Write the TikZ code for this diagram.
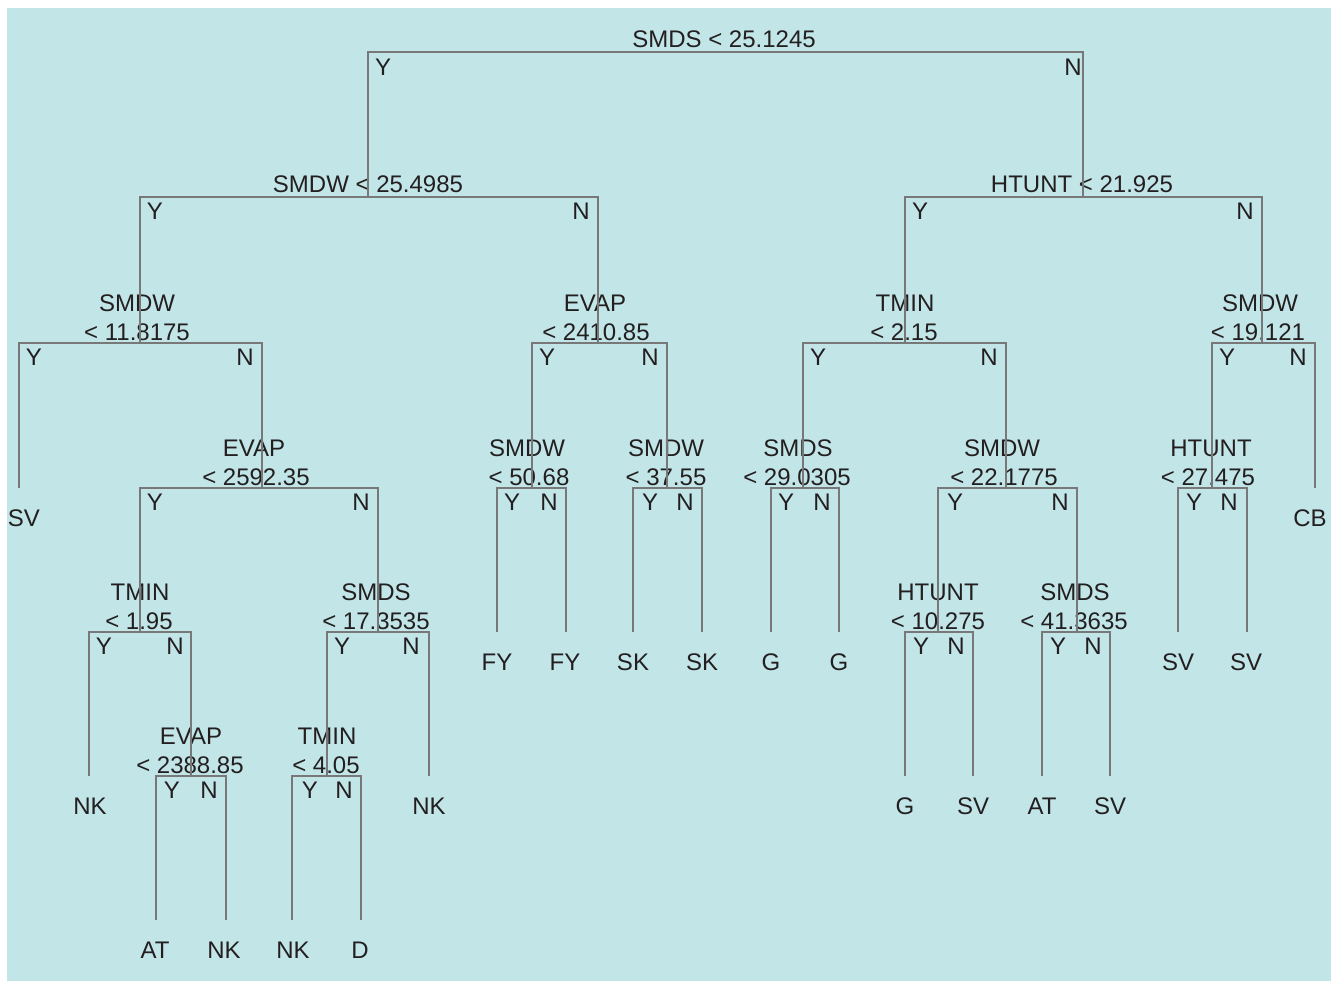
\documentclass[tikz,border=0pt]{standalone}
\usepackage{fontspec}
\setmainfont{Liberation Sans}
\definecolor{bgc}{RGB}{194,229,232}
\definecolor{lnc}{RGB}{120,120,120}
\definecolor{txc}{RGB}{35,31,32}
\begin{document}
\begin{tikzpicture}[x=1pt,y=-1pt,
  every node/.style={inner sep=0pt,outer sep=0pt,text=txc,font=\fontsize{24}{29}\selectfont,anchor=base},
  edge/.style={draw=lnc,line width=2.8pt,line join=miter},
  cond/.style={},
  yn/.style={},
  leaf/.style={}]
\useasboundingbox (0,0) rectangle (1336,980);
\fill[white] (0,0) rectangle (1336,980);
\fill[bgc] (7,8) rectangle (1331,990);

% ---- tree positions ----
\coordinate (root) at (725,52);
\coordinate (n1) at (368,197);
\coordinate (n2) at (1083,197);
\coordinate (n11) at (140,343);
\coordinate (n12) at (598,343);
\coordinate (n21) at (905,343);
\coordinate (n22) at (1262,343);
\coordinate (f1) at (19,488);
\coordinate (n112) at (262,488);
\coordinate (n121) at (532,488);
\coordinate (n122) at (667,488);
\coordinate (n211) at (803,488);
\coordinate (n212) at (1006,488);
\coordinate (n221) at (1212,488);
\coordinate (f2) at (1315,488);
\coordinate (n1121) at (140,632);
\coordinate (n1122) at (378,632);
\coordinate (f3) at (497,632);
\coordinate (f4) at (566,632);
\coordinate (f5) at (633,632);
\coordinate (f6) at (702,632);
\coordinate (f7) at (771,632);
\coordinate (f8) at (839,632);
\coordinate (n2121) at (938,632);
\coordinate (n2122) at (1077,632);
\coordinate (f9) at (1178,632);
\coordinate (f10) at (1247,632);
\coordinate (f11) at (89,776);
\coordinate (n11212) at (191,776);
\coordinate (n11221) at (327,776);
\coordinate (f12) at (429,776);
\coordinate (f13) at (905,776);
\coordinate (f14) at (973,776);
\coordinate (f15) at (1042,776);
\coordinate (f16) at (1110,776);
\coordinate (f17) at (156,920);
\coordinate (f18) at (226,920);
\coordinate (f19) at (292,920);
\coordinate (f20) at (361,920);

% ---- split labels ----
\node[cond] (t-root) at (724,47) {SMDS < 25.1245};
\node[cond] (t-n1) at (368,192) {SMDW < 25.4985};
\node[cond] (t-n2) at (1082,192) {HTUNT < 21.925};
\node[cond] (a-n11) at (137,311) {SMDW};
\node[cond] (b-n11) at (137,340) {< 11.8175};
\node[cond] (a-n12) at (595,311) {EVAP};
\node[cond] (b-n12) at (596,340) {< 2410.85};
\node[cond] (a-n21) at (905,311) {TMIN};
\node[cond] (b-n21) at (904,340) {< 2.15};
\node[cond] (a-n22) at (1260,311) {SMDW};
\node[cond] (b-n22) at (1258,340) {< 19.121};
\node[cond] (a-n112) at (254,456) {EVAP};
\node[cond] (b-n112) at (256,485) {< 2592.35};
\node[cond] (a-n121) at (527,456) {SMDW};
\node[cond] (b-n121) at (529,485) {< 50.68};
\node[cond] (a-n122) at (666,456) {SMDW};
\node[cond] (b-n122) at (666,485) {< 37.55};
\node[cond] (a-n211) at (798,456) {SMDS};
\node[cond] (b-n211) at (797,485) {< 29.0305};
\node[cond] (a-n212) at (1002,456) {SMDW};
\node[cond] (b-n212) at (1004,485) {< 22.1775};
\node[cond] (a-n221) at (1211,456) {HTUNT};
\node[cond] (b-n221) at (1208,485) {< 27.475};
\node[cond] (a-n1121) at (140,600) {TMIN};
\node[cond] (b-n1121) at (139,629) {< 1.95};
\node[cond] (a-n1122) at (376,600) {SMDS};
\node[cond] (b-n1122) at (376,629) {< 17.3535};
\node[cond] (a-n2121) at (938,600) {HTUNT};
\node[cond] (b-n2121) at (938,629) {< 10.275};
\node[cond] (a-n2122) at (1075,600) {SMDS};
\node[cond] (b-n2122) at (1074,629) {< 41.3635};
\node[cond] (a-n11212) at (191,744) {EVAP};
\node[cond] (b-n11212) at (190,773) {< 2388.85};
\node[cond] (a-n11221) at (327,744) {TMIN};
\node[cond] (b-n11221) at (326,773) {< 4.05};

% ---- Y / N labels ----
\node[yn] (y-root) at (383,75) {Y};
\node[yn] (n-root) at (1073,75) {N};
\node[yn] (y-n1) at (155,219) {Y};
\node[yn] (n-n1) at (581,219) {N};
\node[yn] (y-n2) at (920,219) {Y};
\node[yn] (n-n2) at (1245,219) {N};
\node[yn] (y-n11) at (34,365) {Y};
\node[yn] (n-n11) at (245,365) {N};
\node[yn] (y-n12) at (547,365) {Y};
\node[yn] (n-n12) at (650,365) {N};
\node[yn] (y-n21) at (818,365) {Y};
\node[yn] (n-n21) at (989,365) {N};
\node[yn] (y-n22) at (1227,365) {Y};
\node[yn] (n-n22) at (1298,365) {N};
\node[yn] (y-n112) at (155,510) {Y};
\node[yn] (n-n112) at (361,510) {N};
\node[yn] (y-n121) at (512,510) {Y};
\node[yn] (n-n121) at (549,510) {N};
\node[yn] (y-n122) at (650,510) {Y};
\node[yn] (n-n122) at (685,510) {N};
\node[yn] (y-n211) at (786,510) {Y};
\node[yn] (n-n211) at (822,510) {N};
\node[yn] (y-n212) at (955,510) {Y};
\node[yn] (n-n212) at (1060,510) {N};
\node[yn] (y-n221) at (1194,510) {Y};
\node[yn] (n-n221) at (1229,510) {N};
\node[yn] (y-n1121) at (104,654) {Y};
\node[yn] (n-n1121) at (175,654) {N};
\node[yn] (y-n1122) at (342,654) {Y};
\node[yn] (n-n1122) at (411,654) {N};
\node[yn] (y-n2121) at (921,654) {Y};
\node[yn] (n-n2121) at (956,654) {N};
\node[yn] (y-n2122) at (1058,654) {Y};
\node[yn] (n-n2122) at (1093,654) {N};
\node[yn] (y-n11212) at (172,798) {Y};
\node[yn] (n-n11212) at (209,798) {N};
\node[yn] (y-n11221) at (310,798) {Y};
\node[yn] (n-n11221) at (344,798) {N};

% ---- leaf labels ----
\node[leaf] (l1) at (24,526) {SV};
\node[leaf] (l2) at (1310,526) {CB};
\node[leaf] (l3) at (497,670) {FY};
\node[leaf] (l4) at (565,670) {FY};
\node[leaf] (l5) at (633,670) {SK};
\node[leaf] (l6) at (702,670) {SK};
\node[leaf] (l7) at (771,670) {G};
\node[leaf] (l8) at (839,670) {G};
\node[leaf] (l9) at (1178,670) {SV};
\node[leaf] (l10) at (1246,670) {SV};
\node[leaf] (l11) at (90,814) {NK};
\node[leaf] (l12) at (429,814) {NK};
\node[leaf] (l13) at (905,814) {G};
\node[leaf] (l14) at (973,814) {SV};
\node[leaf] (l15) at (1042,814) {AT};
\node[leaf] (l16) at (1110,814) {SV};
\node[leaf] (l17) at (155,958) {AT};
\node[leaf] (l18) at (224,958) {NK};
\node[leaf] (l19) at (293,958) {NK};
\node[leaf] (l20) at (360,958) {D};

% ---- branches ----
\draw[edge] (n1) |- (root) -| (n2);
\draw[edge] (n11) |- (n1) -| (n12);
\draw[edge] (n21) |- (n2) -| (n22);
\draw[edge] (f1) |- (n11) -| (n112);
\draw[edge] (n121) |- (n12) -| (n122);
\draw[edge] (n211) |- (n21) -| (n212);
\draw[edge] (n221) |- (n22) -| (f2);
\draw[edge] (n1121) |- (n112) -| (n1122);
\draw[edge] (f3) |- (n121) -| (f4);
\draw[edge] (f5) |- (n122) -| (f6);
\draw[edge] (f7) |- (n211) -| (f8);
\draw[edge] (n2121) |- (n212) -| (n2122);
\draw[edge] (f9) |- (n221) -| (f10);
\draw[edge] (f11) |- (n1121) -| (n11212);
\draw[edge] (n11221) |- (n1122) -| (f12);
\draw[edge] (f13) |- (n2121) -| (f14);
\draw[edge] (f15) |- (n2122) -| (f16);
\draw[edge] (f17) |- (n11212) -| (f18);
\draw[edge] (f19) |- (n11221) -| (f20);
\end{tikzpicture}
\end{document}
